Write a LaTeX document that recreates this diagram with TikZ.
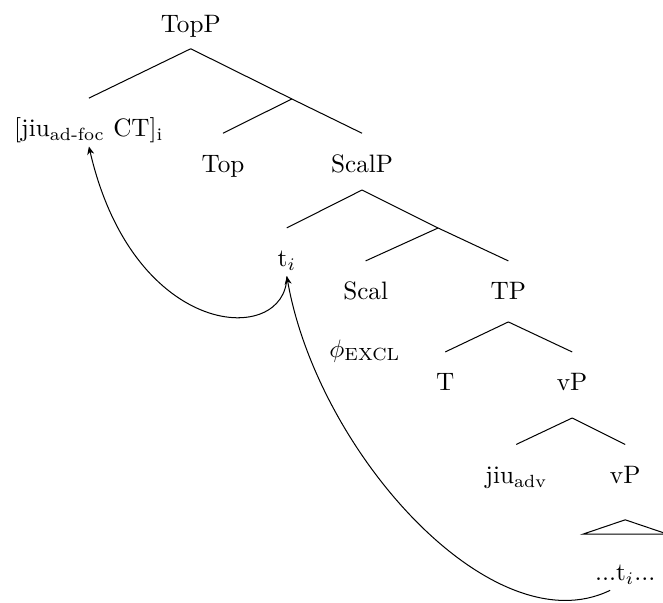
\documentclass[tikz,border=0pt]{standalone}
\usepackage{amsmath}
\usetikzlibrary{arrows.meta}

\begin{document}
\begin{tikzpicture}[
    cat/.style={anchor=base, inner sep=0pt, text height=15.2pt, text depth=3.6pt}, % labels sit on their baseline
    mv/.style={-{Stealth[length=3.2pt,width=2.8pt]}}
    ]
\useasboundingbox (0,0) rectangle (9.247,-8.41);

% categories
\node[cat] (TopP) at (2.66,-0.45) {TopP};
\node[cat] (CT) at (1.24,-1.91) {[jiu$_{\text{ad-foc}}$ CT]$_{\text{i}}$};
\node[cat] (Top) at (3.11,-2.40) {Top};
\node[cat] (ScalP) at (5.05,-2.40) {ScalP};
\node[cat] (ti) at (4.00,-3.72) {t$_i$};
\node[cat] (Scal) at (5.10,-4.18) {Scal};
\node[cat] (TP) at (7.09,-4.18) {TP};
\node[cat] (excl) at (5.09,-4.98) {$\phi_{\text{EXCL}}$};
\node[cat] (T) at (6.21,-5.45) {T};
\node[cat] (vP) at (7.98,-5.45) {vP};
\node[cat] (jiu) at (7.20,-6.74) {jiu$_{\text{adv}}$};
\node[cat] (vPlow) at (8.72,-6.74) {vP};
\node[cat] (tlow) at (8.72,-8.10) {...t$_i$...};

% branching points
\coordinate (TopP-b) at (2.66,-0.68);
\coordinate (TopP-m) at (4.07,-1.38);
\coordinate (ScalP-b) at (5.05,-2.65);
\coordinate (ScalP-m) at (6.11,-3.18);
\coordinate (TP-b) at (7.09,-4.49);
\coordinate (vP-b) at (7.98,-5.83);
\coordinate (tri-t) at (8.72,-7.25);
\coordinate (tri-l) at (8.13,-7.45);
\coordinate (tri-r) at (9.31,-7.45);

\draw (TopP-b) -- (CT.north);
\draw (TopP-b) -- (TopP-m) -- (ScalP.north);
\draw (TopP-m) -- (Top.north);

\draw (ScalP-b) -- (ti.north);
\draw (ScalP-b) -- (ScalP-m) -- (TP.north);
\draw (ScalP-m) -- (Scal.north);

\draw (TP-b) -- (T.north);
\draw (TP-b) -- (vP.north);

\draw (vP-b) -- (jiu.north);
\draw (vP-b) -- (vPlow.north);

\draw (tri-t) -- (tri-l) -- (tri-r) -- cycle;

% movement
\draw[mv] ([xshift=-6pt]tlow.south) .. controls +(206:1.81) and +(-80:2.51) .. (ti.south);
\draw[mv] (ti.south) .. controls +(-90:0.98) and +(-77:2.79) .. (CT.south);
\end{tikzpicture}
\end{document}
